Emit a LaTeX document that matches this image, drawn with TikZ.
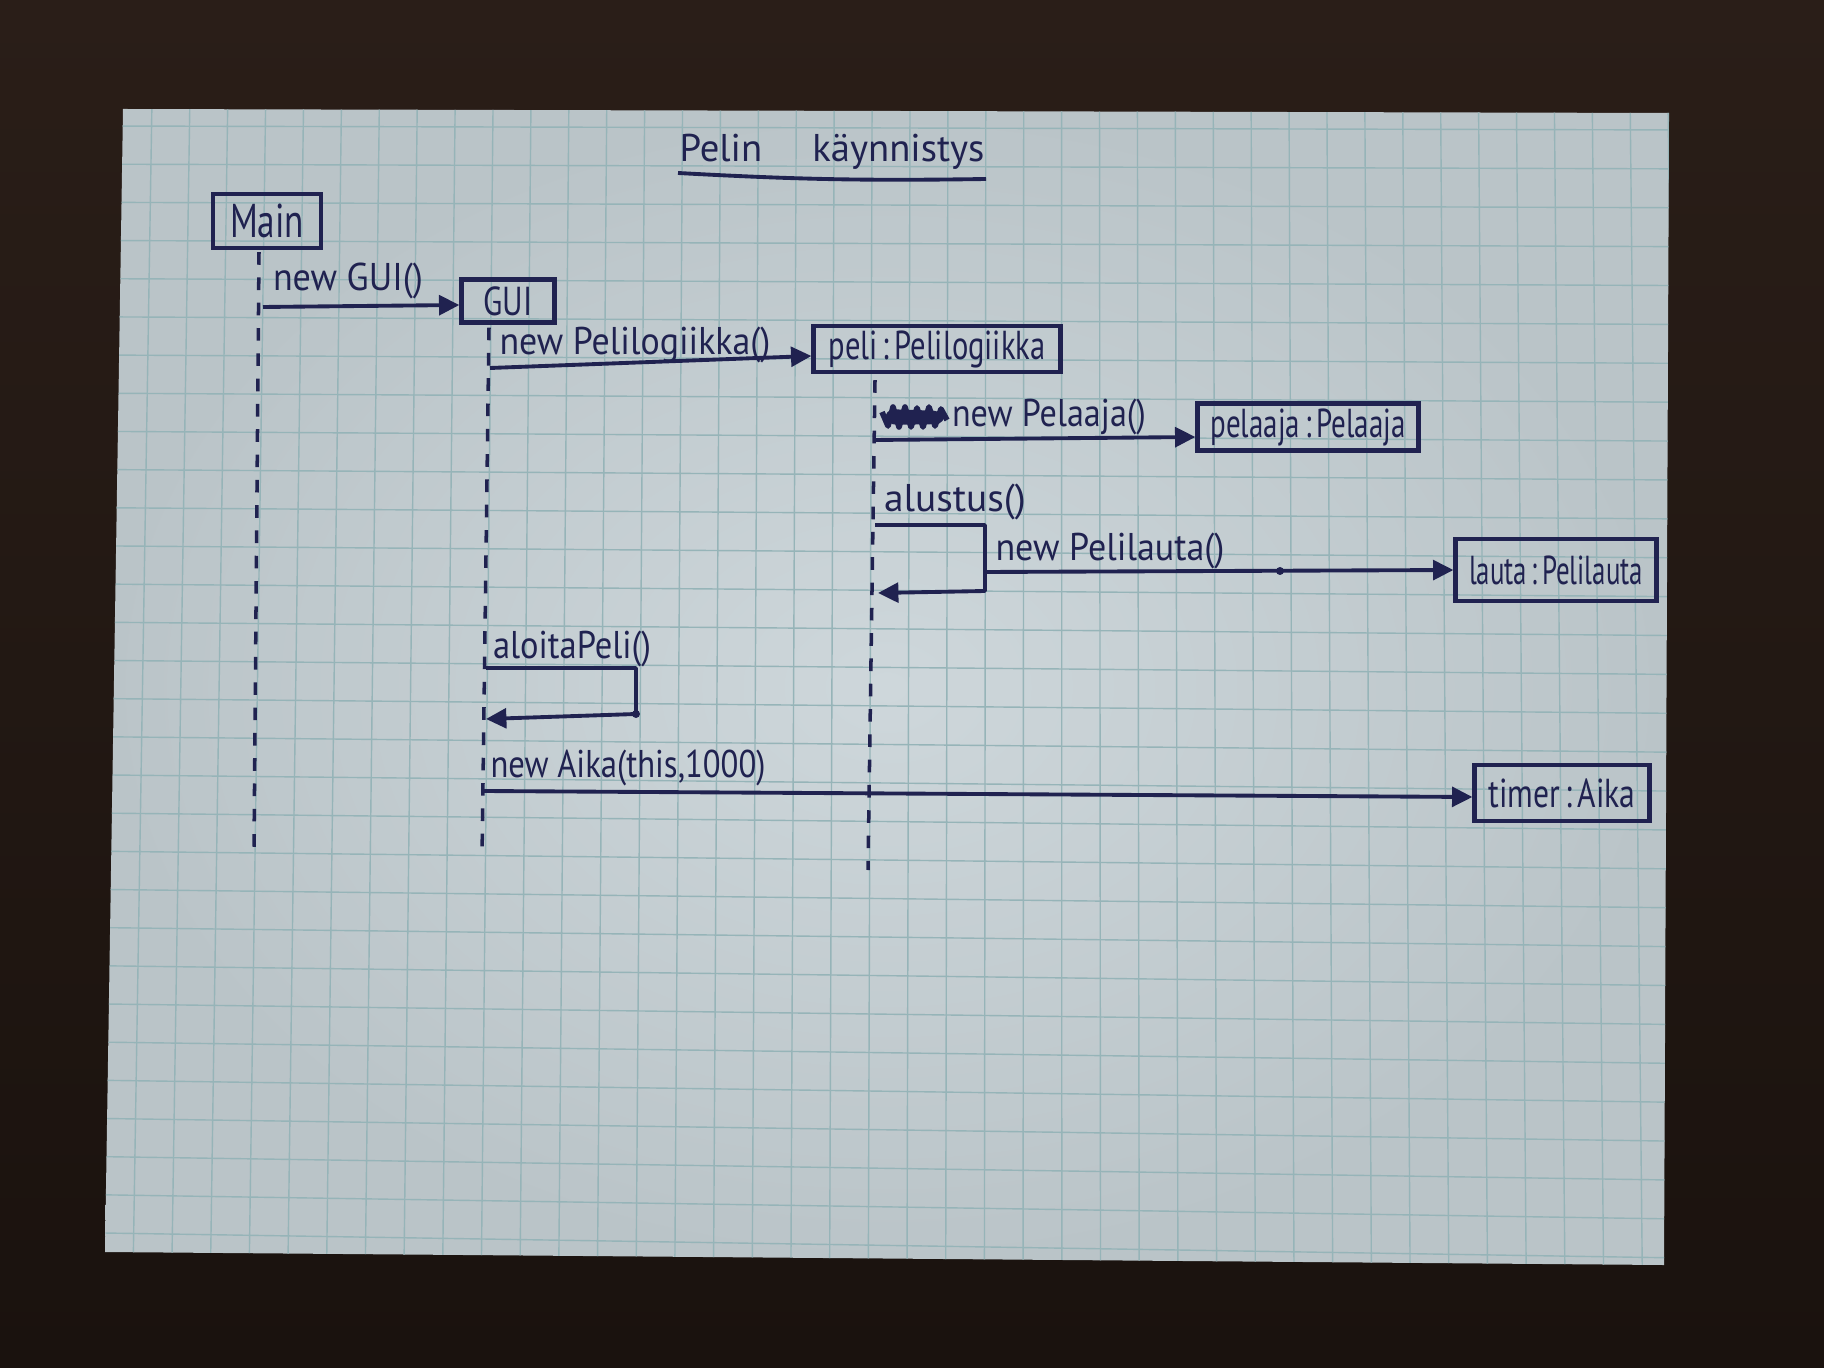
\documentclass[tikz,border=0pt]{standalone}
\usepackage{fontspec}
\setmainfont{PT Sans}
\usepackage{graphicx}
\usetikzlibrary{arrows.meta,calc}
\definecolor{woodtop}{RGB}{42,30,24}
\definecolor{woodbot}{RGB}{26,18,14}
\definecolor{paperin}{RGB}{206,215,219}
\definecolor{paperout}{RGB}{186,196,200}
\definecolor{gridc}{RGB}{150,180,184}
\definecolor{ink}{RGB}{32,34,80}
\newcommand{\fitw}[2]{\resizebox{#1}{\height}{#2}}
\begin{document}
\begin{tikzpicture}[x=0.1mm,y=-0.1mm,
  hbox/.style={draw=ink, line width=1.2pt, inner sep=0pt, text=ink, font=\fontsize{11.5}{13}\selectfont},
  lbl/.style={inner sep=0pt, text=ink, font=\fontsize{11}{13}\selectfont},
  life/.style={draw=ink, line width=1pt, dash pattern=on 3.6pt off 3.6pt},
  msg/.style={draw=ink, line width=1.1pt, line join=round, -{Triangle[length=5.8pt,width=5.6pt]}},
  inkline/.style={draw=ink, line width=1.1pt}]
\useasboundingbox (0,0) rectangle (1824,1368);
% table
\shade[top color=woodtop,bottom color=woodbot] (0,0) rectangle (1824,1368);
% paper
\shade[inner color=paperin, outer color=paperout] (123,109) -- (1669,113) -- (1664,1265) -- (105,1252) -- cycle;
\begin{scope}
  \clip (123,109) -- (1669,113) -- (1664,1265) -- (105,1252) -- cycle;
  \foreach \i in {0,...,40} \draw[gridc, line width=0.4pt] ({152+37.9*\i},100) -- ({133+38.7*\i},1275);
  \foreach \j in {0,...,30} \draw[gridc, line width=0.4pt] (100,{126+38.17*\j}) -- (1690,{130+38.9*\j});
\end{scope}

% title
\node[lbl] (title) at (832,152) {\fitw{30.5mm}{Pelin\hspace{1.3em}käynnistys}};
\coordinate (tu1) at (678,173);
\coordinate (tu2) at (986,179);
\draw[inkline] (tu1) to[bend right=2] (tu2);

% objects
\node[hbox, minimum width=10.8mm, minimum height=5.4mm, font=\fontsize{13.5}{15}\selectfont] (main) at (267,221) {\fitw{7.4mm}{Main}};
\node[hbox, minimum width=9.3mm, minimum height=4.3mm] (gui) at (508,301) {\fitw{4.9mm}{GUI}};
\node[hbox, minimum width=24.7mm, minimum height=4.6mm] (peli) at (937,349) {\fitw{21.7mm}{peli\,:\,Pelilogiikka}};
\node[hbox, minimum width=22.1mm, minimum height=4.7mm] (pelaaja) at (1308,427) {\fitw{19.5mm}{pelaaja\,:\,Pelaaja}};
\node[hbox, minimum width=20.1mm, minimum height=6.2mm] (lauta) at (1556,570) {\fitw{17.4mm}{lauta\,:\,Pelilauta}};
\node[hbox, minimum width=17.5mm, minimum height=5.6mm] (timer) at (1562,793) {\fitw{14.7mm}{timer\,:\,Aika}};

% lifelines
\coordinate (mainL) at (254,849);
\coordinate (guiL) at (482,858);
\coordinate (peliL) at (868,870);
\draw[life] ($(main.south)+(-8,2)$) -- (mainL);
\draw[life] ($(gui.south)+(-19,3)$) -- (guiL);
\draw[life] ($(peli.south)+(-62,6)$) -- (peliL);

% messages
\coordinate (m1) at (263,307);
\draw[msg] (m1) -- ($(gui.west)+(0,4)$);
\node[lbl] (l1) at (348,281) {\fitw{15.0mm}{new GUI()}};

\coordinate (m2) at (490,368);
\draw[msg] (m2) -- ($(peli.west)+(0,7)$);
\node[lbl] (l2) at (635,345) {\fitw{27.1mm}{new Pelilogiikka()}};

\coordinate (m3) at (874,440);
\draw[msg] (m3) -- ($(pelaaja.west)+(0,10)$);
\node[lbl] (l3) at (1049,417) {\fitw{19.4mm}{new Pelaaja()}};
% crossed-out word
\fill[ink, rounded corners=3] (884,409) -- (944,411) -- (946,424) -- (886,425) -- cycle;
\draw[ink, line width=1.6pt, line join=round]
  (882,412) -- (888,426) -- (893,407) -- (899,427) -- (905,407) -- (911,427) -- (917,408) -- (923,427) -- (929,407) -- (935,426) -- (941,409) -- (947,420);

% alustus self call
\node[lbl] (l4) at (955,502) {\fitw{14.2mm}{alustus()}};
\coordinate (s1a) at (875,525);
\coordinate (s1b) at (985,525);
\coordinate (s1c) at (985,591);
\coordinate (s1d) at (878,593);
\draw[msg] (s1a) -- (s1b) -- (s1c) -- (s1d);

\coordinate (m4) at (985,572);
\draw[msg] (m4) -- (lauta.west);
\coordinate (dot1) at (1280,571);
\fill[ink] (dot1) circle (4);
\node[lbl] (l5) at (1110,551) {\fitw{22.9mm}{new Pelilauta()}};

% aloitaPeli self call
\node[lbl] (l6) at (572,649) {\fitw{15.8mm}{aloitaPeli()}};
\coordinate (s2a) at (486,668);
\coordinate (s2b) at (636,668);
\coordinate (s2c) at (636,714);
\coordinate (s2d) at (486,719);
\draw[msg] (s2a) -- (s2b) -- (s2c) -- (s2d);
\fill[ink] (s2c) circle (4);

% new Aika
\coordinate (m5) at (484,791);
\draw[msg] (m5) -- ($(timer.west)+(0,4)$);
\node[lbl] (l7) at (628,768) {\fitw{27.5mm}{new Aika(this,1000)}};
\end{tikzpicture}
\end{document}
